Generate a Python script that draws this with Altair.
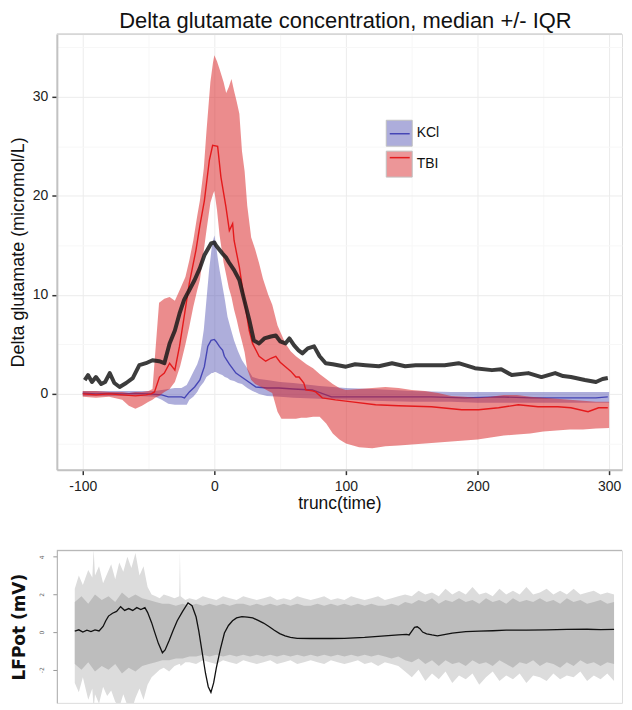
import altair as alt
import pandas as pd

FONT = "Liberation Sans"

# ---------------- top panel data (time in s, glutamate in micromol/L) ----------------
black_t = [-98.5, -96, -93, -90, -86, -83, -79.5, -76, -72, -67, -62, -57, -52, -47, -42, -38, -34, -30,
           -26.5, -23, -19, -15, -11, -7.6, -2.5, 0, 1.3, 6, 8.8, 11, 15, 19, 22.7, 26.5, 30, 34, 38, 43,
           46.7, 50, 54, 57, 60.6, 64, 67, 71, 75.8, 80, 84.6, 90, 100, 107, 115, 125, 135, 145, 153, 165,
           175, 185.6, 198, 211, 218, 226, 238.6, 248.6, 259, 265, 271, 281.6, 290, 295, 299]
black_y = [1.4, 1.9, 1.2, 1.7, 1.0, 1.2, 2.1, 1.1, 0.7, 1.1, 1.6, 2.9, 3.1, 3.4, 3.3, 3.1, 5.1, 6.4,
           8.1, 9.5, 10.5, 11.5, 12.7, 14.0, 15.2, 15.3, 15.0, 14.2, 13.8, 13.3, 12.5, 11.5, 9.5, 7.5, 5.4, 5.1, 5.6, 5.8,
           5.9, 5.3, 5.1, 5.6, 4.9, 4.4, 4.1, 4.6, 4.8, 3.8, 3.1, 3.0, 2.75, 3.0, 2.9, 2.8, 3.1, 2.8, 2.9, 2.9,
           2.9, 3.1, 2.6, 2.4, 2.5, 1.9, 2.1, 1.7, 2.1, 1.8, 1.7, 1.4, 1.2, 1.5, 1.6]

tbi_t = [-100, -90, -80, -70, -60, -52, -48, -45.5, -41.7, -38, -34, -30, -26.5, -22.7, -19, -14, -11, -7.6,
         -3.8, -1.3, 2.5, 5, 8.8, 11.4, 13.9, 15, 19, 22.7, 26.5, 29, 34, 39, 43, 46.7, 50, 54, 58, 62, 64.4,
         68, 69.5, 74.5, 77, 82, 92, 104.6, 122.5, 140, 165, 188, 200.8, 216, 231, 246, 261, 271, 284, 292, 299]
tbi_med = [0.0, -0.1, 0.0, -0.1, -0.2, -0.1, 0.0, 0.2, 1.7, 2.1, 3.1, 2.4, 4.8, 8.0, 11.2, 14.5, 17.0, 19.5,
           23.6, 25.1, 25.0, 21.9, 18.9, 16.5, 17.2, 15.5, 12.8, 9.5, 6.4, 5.1, 3.8, 3.3, 3.6, 3.8, 3.2, 2.75, 2.3, 1.7, 1.7,
           1.1, 0.4, 0.3, 0.2, -0.4, -0.6, -0.8, -1.1, -1.2, -1.3, -1.6, -1.6, -1.4, -1.1, -1.3, -1.3, -1.4, -1.8, -1.4, -1.4]

tbi_band_t = [-100, -90, -80, -70, -65, -60, -55, -50, -47, -45, -42, -38, -34, -30, -26, -22, -19, -16, -13, -11,
              -8, -6, -3, -1, 0, 2, 4, 7, 9, 11, 13, 15, 17, 19, 21, 23, 25, 28, 31, 34,
              37, 41, 44, 48, 51, 54, 58, 62, 66, 70, 75, 80, 85, 90, 95, 100, 110, 120, 130, 140,
              150, 160, 170, 180, 190, 200, 210, 220, 230, 240, 250, 260, 270, 280, 290, 300]
tbi_q3 = [0.3, 0.3, 0.2, 0.2, 0.1, 0.2, 0.2, 0.3, 0.5, 4.0, 9.2, 9.6, 9.8, 9.4, 10.6, 11.8, 13.5, 15.5, 18.0, 19.5,
          22.8, 26.5, 31.5, 33.5, 34.2, 33.6, 32.8, 31.5, 30.4, 31.0, 31.8, 30.6, 29.5, 28.3, 24.5, 22.5, 19.0, 15.8, 14.6, 13.2,
          11.6, 10.0, 9.0, 6.9, 6.0, 5.1, 4.3, 3.8, 3.4, 3.0, 2.6, 2.0, 1.5, 1.0, 0.6, 0.4, 0.5, 0.6, 0.7, 0.6,
          0.4, 0.3, 0.1, -0.2, -0.3, -0.4, -0.3, -0.1, -0.1, -0.3, -0.4, -0.5, -0.6, -0.7, -0.8, -0.8]
tbi_q1 = [-0.3, -0.4, -0.3, -0.6, -1.2, -1.5, -1.2, -0.8, -0.6, -0.4, -0.2, 0.2, 0.5, 1.2, 2.8, 5.0, 6.8, 8.8, 10.5, 11.5,
          14.5, 16.5, 19.3, 20.2, 20.5, 18.6, 16.0, 13.3, 12.0, 10.7, 9.8, 8.5, 7.5, 6.3, 5.3, 4.2, 2.5, 1.4, 1.0, 0.8,
          0.6, 0.3, 0.1, -1.8, -2.5, -2.5, -2.5, -2.5, -2.4, -2.4, -2.3, -2.3, -3.0, -4.0, -4.6, -5.0, -5.4, -5.5, -5.3, -5.2,
          -5.1, -5.0, -4.9, -4.8, -4.7, -4.6, -4.4, -4.2, -4.1, -4.0, -3.8, -3.7, -3.6, -3.6, -3.5, -3.45]

kcl_t = [-100, -90, -80, -70, -60, -50, -40, -35, -30, -25, -22.7, -19, -15, -11, -7.6, -5, -2.5, 0, 1.3, 3.8,
         6.3, 7.6, 11.4, 16.4, 24, 31.6, 40, 49, 60, 74.5, 89, 100, 115, 140, 165, 190, 216, 241, 266, 290, 299]
kcl_med = [0.07, 0.0, 0.05, 0.0, 0.05, 0.0, -0.1, -0.3, -0.3, -0.3, -0.4, 0.2, 0.7, 1.4, 2.75, 4.8, 5.4, 5.5, 5.3, 4.8,
           4.4, 3.8, 3.0, 2.1, 1.4, 0.7, 0.6, 0.6, 0.5, 0.4, -0.3, -0.3, -0.3, -0.3, -0.3, -0.4, -0.3, -0.4, -0.4, -0.4, -0.3]

kcl_band_t = [-100, -80, -60, -45, -40, -35, -30, -25, -21, -19, -16, -13, -11, -8, -6, -4, -2, -1, 0, 1,
              2.5, 4, 6, 8, 10, 12, 15, 18, 21, 25, 29, 34, 40, 50, 60, 80, 100, 120, 150, 180,
              200, 225, 250, 275, 300]
kcl_q3 = [0.3, 0.3, 0.3, 0.3, 0.4, 0.5, 0.6, 0.6, 0.9, 1.4, 2.2, 3.0, 3.8, 6.5, 9.5, 12.5, 14.8, 15.5, 16.0, 15.3,
          13.8, 12.5, 11.0, 9.5, 7.8, 6.8, 5.4, 4.3, 3.4, 2.6, 1.7, 1.5, 1.4, 1.2, 1.1, 0.8, 0.6, 0.5, 0.3, 0.2,
          0.2, 0.2, 0.2, 0.2, 0.2]
kcl_q1 = [-0.2, -0.2, -0.2, -0.3, -0.6, -1.0, -1.1, -1.1, -1.1, -0.6, -0.3, 0.2, 0.7, 1.2, 1.7, 1.9, 2.1, 2.1, 2.2, 2.2,
          2.1, 2.0, 1.9, 1.7, 1.6, 1.4, 1.3, 1.1, 1.0, 0.6, 0.3, 0.0, -0.2, -0.3, -0.4, -0.5, -0.6, -0.7, -0.8, -0.8,
          -0.9, -0.9, -0.9, -0.9, -0.9]

groups = ["KCl", "TBI"]
line_groups = ["KCl line", "TBI line"]
x_ticks = [-100, -50, 0, 50, 100, 150, 200, 250, 300]
y_ticks = [-5, 0, 5, 10, 15, 20, 25, 30, 35]

# ---------------- bottom panel data (LFP, mV) ----------------
lfp_outer_t = [-100, -97, -94, -90, -87, -86, -85, -82, -79, -76,
               -73, -70, -67, -64, -61, -58, -55, -52, -49, -46,
               -43, -40, -37, -34, -30, -26, -22.5, -22, -21.5, -18,
               -15, -10, -5, 0, 5, 10, 15, 20, 25, 30,
               35, 40, 45, 50, 55, 60, 65, 70, 75, 80,
               85, 90, 95, 100, 105, 110, 115, 120, 125, 130,
               135, 140, 145, 150, 155, 160, 165, 170, 175, 180,
               185, 190, 195, 200, 205, 210, 215, 220, 225, 230,
               235, 240, 245, 250, 255, 260, 265, 270, 275, 280,
               285, 290, 295, 300]
lfp_outer_hi = [2.3, 3.0, 2.5, 3.3, 2.9, 4.4, 3.0, 3.5, 2.6, 3.1,
                3.6, 2.8, 3.7, 3.2, 4.0, 3.4, 4.2, 3.0, 3.5, 2.4,
                2.0, 1.9, 1.8, 2.0, 1.9, 1.8, 1.9, 4.3, 1.9, 1.7,
                1.8, 1.7, 1.9, 1.8, 1.7, 1.9, 1.8, 1.7, 1.9, 1.8,
                1.7, 1.8, 1.9, 1.7, 1.8, 1.7, 1.9, 1.8, 1.7, 1.8,
                1.9, 1.7, 1.8, 1.7, 1.9, 1.8, 1.7, 1.8, 1.9, 1.7,
                1.8, 1.9, 2.0, 1.9, 2.2, 2.0, 2.1, 1.9, 2.3, 2.0,
                2.2, 2.0, 2.4, 2.0, 2.1, 1.9, 2.3, 2.0, 2.2, 2.0,
                2.4, 2.0, 2.1, 2.3, 2.0, 2.2, 2.0, 2.3, 2.0, 2.1,
                2.2, 2.0, 2.1, 2.0]
lfp_outer_lo = [-2.7, -3.2, -2.4, -3.6, -3.0, -4.1, -3.3, -3.8, -2.9, -3.4,
                -3.1, -3.7, -4.0, -3.3, -3.9, -4.2, -3.5, -3.0, -3.6, -2.8,
                -2.4, -2.2, -2.0, -1.9, -2.1, -1.8, -1.7, -1.7, -1.8, -1.6,
                -1.6, -1.7, -1.5, -1.6, -1.7, -1.5, -1.6, -1.7, -1.5, -1.6,
                -1.7, -1.6, -1.5, -1.7, -1.6, -1.5, -1.7, -1.6, -1.5, -1.6,
                -1.7, -1.5, -1.6, -1.7, -1.6, -1.5, -1.7, -1.6, -1.8, -1.6,
                -1.7, -1.8, -2.1, -2.4, -2.0, -2.6, -2.2, -2.5, -2.1, -2.7,
                -2.3, -2.5, -2.2, -2.8, -2.4, -2.1, -2.6, -2.3, -2.5, -2.2,
                -2.7, -2.3, -2.4, -2.6, -2.2, -2.5, -2.3, -2.4, -2.1, -2.6,
                -2.3, -2.5, -2.2, -2.6]

lfp_core_t = [-100, -95, -90, -85, -80, -75, -70, -65, -60, -55,
              -50, -45, -40, -35, -30, -25, -20, -15, -10, -5,
              0, 5, 10, 15, 20, 25, 30, 35, 40, 45,
              50, 55, 60, 65, 70, 75, 80, 85, 90, 95,
              100, 105, 110, 115, 120, 125, 130, 135, 140, 145,
              150, 155, 160, 165, 170, 175, 180, 185, 190, 195,
              200, 205, 210, 215, 220, 225, 230, 235, 240, 245,
              250, 255, 260, 265, 270, 275, 280, 285, 290, 295,
              300]
lfp_core_hi = [1.6, 1.9, 1.5, 2.0, 1.7, 1.9, 1.6, 2.1, 1.8, 2.0,
               1.8, 1.7, 1.6, 1.5, 1.5, 1.4, 1.5, 1.4, 1.5, 1.4,
               1.5, 1.4, 1.5, 1.4, 1.5, 1.5, 1.4, 1.5, 1.4, 1.5,
               1.4, 1.5, 1.4, 1.5, 1.4, 1.4, 1.5, 1.4, 1.5, 1.4,
               1.5, 1.4, 1.5, 1.4, 1.5, 1.4, 1.4, 1.5, 1.4, 1.6,
               1.5, 1.7, 1.6, 1.8, 1.5, 1.7, 1.6, 1.8, 1.6, 1.7,
               1.5, 1.8, 1.6, 1.7, 1.5, 1.8, 1.6, 1.7, 1.6, 1.8,
               1.6, 1.7, 1.5, 1.8, 1.6, 1.7, 1.5, 1.6, 1.7, 1.5,
               1.6]
lfp_core_lo = [-1.7, -2.0, -1.6, -2.1, -1.8, -2.0, -1.7, -2.2, -1.9, -2.1,
               -1.8, -1.7, -1.6, -1.5, -1.5, -1.4, -1.4, -1.3, -1.3, -1.2,
               -1.3, -1.2, -1.3, -1.2, -1.3, -1.2, -1.3, -1.2, -1.3, -1.2,
               -1.3, -1.2, -1.3, -1.2, -1.3, -1.2, -1.3, -1.2, -1.3, -1.2,
               -1.3, -1.2, -1.3, -1.2, -1.3, -1.2, -1.3, -1.4, -1.3, -1.5,
               -1.6, -1.4, -1.7, -1.5, -1.8, -1.5, -1.7, -1.6, -1.8, -1.5,
               -1.7, -1.6, -1.8, -1.5, -1.7, -1.9, -1.6, -1.7, -1.5, -1.8,
               -1.6, -1.7, -1.9, -1.6, -1.8, -1.5, -1.7, -1.6, -1.8, -1.6,
               -1.7]

lfp_mean_t = [-100, -97, -94, -91, -88, -85, -82, -79, -77, -75,
              -72, -69, -66, -63, -60, -57, -54, -51, -48, -46,
              -43, -41, -38, -35, -33, -30, -27, -24, -20, -16,
              -13, -10, -8, -5, -3, -1, 1, 3, 5, 8,
              11, 14, 17, 20, 24, 28, 32, 36, 40, 44,
              48, 52, 56, 60, 65, 75, 90, 100, 115, 130,
              140, 146, 148, 150, 152, 154, 156, 158, 161, 165,
              169, 175, 180, 190, 200, 210, 220, 235, 250, 265,
              280, 290, 300]
lfp_mean_v = [0.05, 0.12, 0.0, 0.1, 0.03, 0.12, 0.06, 0.3, 0.6, 0.85,
              1.0, 1.1, 1.35, 1.15, 1.25, 1.15, 1.3, 1.2, 1.3, 1.05,
              0.5, 0.05, -0.6, -1.1, -0.95, -0.45, 0.1, 0.6, 1.1, 1.55,
              1.4, 0.8, 0.05, -1.3, -2.2, -2.9, -3.2, -2.7, -1.9, -0.9,
              -0.05, 0.35, 0.6, 0.75, 0.82, 0.8, 0.75, 0.62, 0.48, 0.3,
              0.1, -0.08, -0.2, -0.28, -0.33, -0.34, -0.34, -0.33, -0.28, -0.2,
              -0.15, -0.12, -0.15, 0.05, 0.25, 0.28, 0.18, 0.0, -0.09, -0.15,
              -0.2, -0.12, -0.05, 0.02, 0.05, 0.07, 0.1, 0.1, 0.12, 0.14,
              0.15, 0.13, 0.14]
lfp_ticks = [-2, 0, 2, 4]

# ---------------- tables ----------------
df_black = pd.DataFrame({"t": black_t, "y": black_y})
df_tbi = pd.DataFrame({"t": tbi_t, "y": tbi_med, "grp2": "TBI line"})
df_tbi_band = pd.DataFrame({"t": tbi_band_t, "lo": tbi_q1, "hi": tbi_q3, "grp": "TBI"})
df_kcl = pd.DataFrame({"t": kcl_t, "y": kcl_med, "grp2": "KCl line"})
df_kcl_band = pd.DataFrame({"t": kcl_band_t, "lo": kcl_q1, "hi": kcl_q3, "grp": "KCl"})
df_out = pd.DataFrame({"t": lfp_outer_t, "hi": lfp_outer_hi, "lo": lfp_outer_lo})
df_core = pd.DataFrame({"t": lfp_core_t, "hi": lfp_core_hi, "lo": lfp_core_lo})
df_mean = pd.DataFrame({"t": lfp_mean_t, "v": lfp_mean_v})

W1, H1 = 567, 437
W2, H2 = 567, 153

minor_x = "datum.value % 100 !== 0"
minor_y = "datum.value % 10 !== 0"

x_top = alt.X(
    "t:Q",
    scale=alt.Scale(domain=[-119.7, 309.8], nice=False, zero=False),
    axis=alt.Axis(
        values=x_ticks, labelExpr="datum.value % 100 === 0 ? '' + datum.value : ''",
        title="trunc(time)", titleFont=FONT, titleFontSize=17.5, titleFontWeight="normal",
        titleColor="#111", titlePadding=1,
        labelFont=FONT, labelFontSize=14, labelColor="#222", labelPadding=5, labelFlush=False,
        tickSize=5, tickWidth=1.5,
        tickColor={"condition": {"test": minor_x, "value": "rgba(0,0,0,0)"}, "value": "#333"},
        grid=True, gridWidth=1,
        gridColor={"condition": {"test": minor_x, "value": "#f7f7f7"}, "value": "#ececec"},
        domainColor="#c2c2c2", domainWidth=2,
    ),
)
y_top_axis = alt.Axis(
    values=y_ticks, labelExpr="datum.value % 10 === 0 ? '' + datum.value : ''",
    title="Delta glutamate (micromol/L)", titleFont=FONT, titleFontSize=18, titleFontWeight="normal",
    titleColor="#111", titleX=-29.5,
    labelFont=FONT, labelFontSize=14, labelColor="#222", labelPadding=4, labelFlush=False,
    tickSize=5, tickWidth=1.5,
    tickColor={"condition": {"test": minor_y, "value": "rgba(0,0,0,0)"}, "value": "#333"},
    grid=True, gridWidth=1,
    gridColor={"condition": {"test": minor_y, "value": "#f7f7f7"}, "value": "#ececec"},
    domainColor="#c2c2c2", domainWidth=2,
)
y_scale = alt.Scale(domain=[-7.65, 36.35], nice=False, zero=False)

fill_scale = alt.Scale(domain=groups, range=["#4b4bb0", "#d7191c"])
stroke_scale = alt.Scale(domain=line_groups, range=["#4545b5", "#e41a1c"])

fill_legend = alt.Legend(
    title=None, orient="none", legendX=330, legendY=86, direction="vertical",
    symbolType="square", symbolSize=676, symbolOpacity=0.45,
    symbolStrokeColor="#777", symbolStrokeWidth=1,
    rowPadding=0, padding=0, labelFont=FONT, labelFontSize=14, labelColor="#111", labelOffset=4,
)
stroke_legend = alt.Legend(
    title=None, orient="none", legendX=333, legendY=89, direction="vertical",
    symbolType="stroke", symbolSize=400, symbolStrokeWidth=1.5,
    rowPadding=6, padding=0, labelExpr="''", labelFontSize=14,
)

kcl_band = alt.Chart(df_kcl_band).mark_area(opacity=0.45).encode(
    x=x_top, y=alt.Y("lo:Q", scale=y_scale, axis=y_top_axis), y2="hi:Q",
    fill=alt.Fill("grp:N", scale=fill_scale, legend=fill_legend),
)
kcl_line = alt.Chart(df_kcl).mark_line(strokeWidth=1.4).encode(
    x=x_top, y=alt.Y("y:Q", scale=y_scale, axis=y_top_axis),
    stroke=alt.Stroke("grp2:N", scale=stroke_scale, legend=stroke_legend),
)
tbi_band = alt.Chart(df_tbi_band).mark_area(opacity=0.5).encode(
    x=x_top, y=alt.Y("lo:Q", scale=y_scale, axis=y_top_axis), y2="hi:Q",
    fill=alt.Fill("grp:N", scale=fill_scale, legend=fill_legend),
)
tbi_line = alt.Chart(df_tbi).mark_line(strokeWidth=1.4).encode(
    x=x_top, y=alt.Y("y:Q", scale=y_scale, axis=y_top_axis),
    stroke=alt.Stroke("grp2:N", scale=stroke_scale, legend=stroke_legend),
)
black_line = alt.Chart(df_black).mark_line(color="#1a1a1a", strokeWidth=4, opacity=0.85,
                                           strokeJoin="round").encode(
    x=x_top, y=alt.Y("y:Q", scale=y_scale, axis=y_top_axis),
)
top_border = alt.Chart(pd.DataFrame({"k": [0]})).mark_rule(color="#d5d5d5", strokeWidth=1.5).encode(
    x=alt.value(0), x2=alt.value(W1), y=alt.value(0),
)

top = alt.layer(kcl_band, kcl_line, tbi_band, tbi_line, black_line, top_border).properties(
    width=W1, height=H1,
    title=alt.TitleParams("Delta glutamate concentration, median +/- IQR", font=FONT, fontSize=22,
                          fontWeight="normal", color="#111", anchor="middle", frame="group",
                          offset=0, dx=6),
)

# ---------------- bottom panel ----------------
x_bot = alt.X("t:Q", scale=alt.Scale(domain=[-113.3, 305.9], nice=False, zero=False), axis=None)
y_bot_scale = alt.Scale(domain=[-3.76, 4.34], nice=False, zero=False)
y_bot_axis = alt.Axis(
    values=lfp_ticks, labelExpr="'' + datum.value", labelAngle=270, labelFont="DejaVu Sans",
    labelFontSize=6, labelColor="#666", labelPadding=8, labelFlush=False,
    tickSize=4, tickColor="#999", tickWidth=1, grid=False,
    domainColor="#b0b0b0", domainWidth=1,
    title="LFPot (mV)", titleFont="DejaVu Sans", titleFontSize=17, titleFontWeight="bold",
    titleColor="#111", titleX=-28,
)

outer = alt.Chart(df_out).mark_area(color="#dcdcdc", clip=True).encode(
    x=x_bot, y=alt.Y("hi:Q", scale=y_bot_scale, axis=y_bot_axis), y2="lo:Q")
core = alt.Chart(df_core).mark_area(color="#bdbdbd", clip=True).encode(
    x=x_bot, y=alt.Y("hi:Q", scale=y_bot_scale, axis=y_bot_axis), y2="lo:Q")
mean = alt.Chart(df_mean).mark_line(color="#111", strokeWidth=1.3, clip=True).encode(
    x=x_bot, y=alt.Y("v:Q", scale=y_bot_scale, axis=y_bot_axis))
bot_border = alt.Chart(pd.DataFrame({"k": [0]})).mark_rule(color="#b0b0b0", strokeWidth=1).encode(
    x=alt.value(0), x2=alt.value(W2), y=alt.value(0),
)
bottom = alt.layer(outer, core, mean, bot_border).properties(width=W2, height=H2)

chart = alt.vconcat(top, bottom, spacing=81, bounds="flush").properties(
    padding={"left": 1, "top": 0, "right": 0, "bottom": 0},
).configure_view(stroke=None).configure(font=FONT)

chart.save("out.html", embed_options={"renderer": "svg", "actions": False})
